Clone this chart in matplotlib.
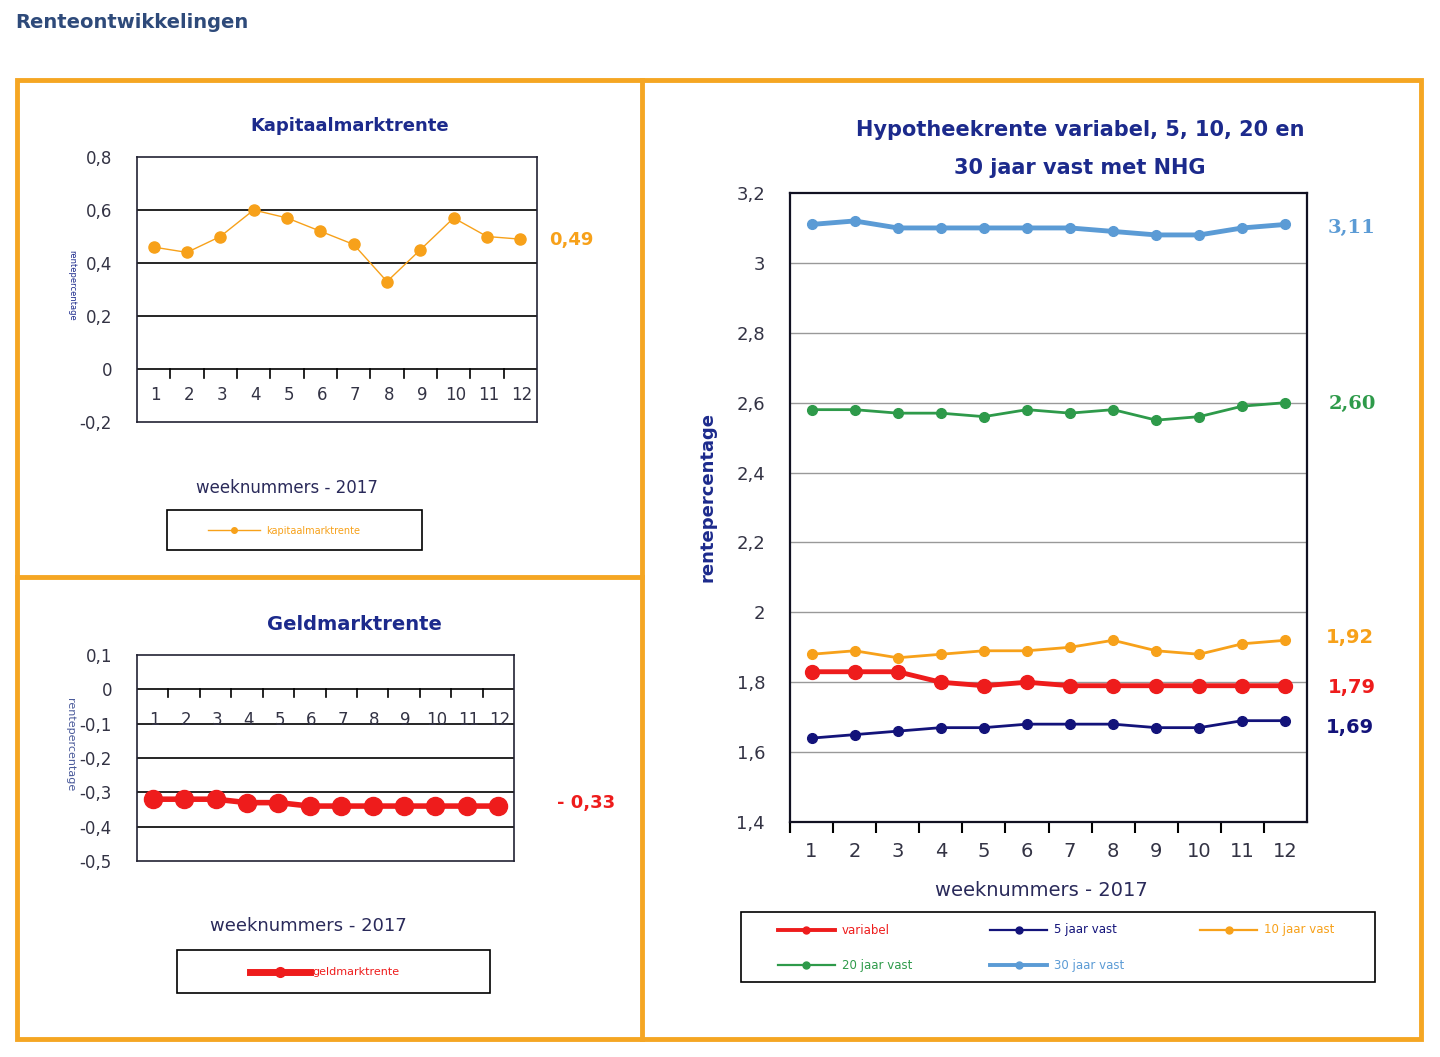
import matplotlib
matplotlib.use("Agg")
import matplotlib.pyplot as plt
from matplotlib.lines import Line2D
from matplotlib.patches import Rectangle

W, H = 1440, 1057

weeks = list(range(1, 13))
kapitaal = [0.46, 0.44, 0.50, 0.60, 0.57, 0.52, 0.47, 0.33, 0.45, 0.57, 0.50, 0.49]
geld = [-0.32, -0.32, -0.32, -0.33, -0.33, -0.34, -0.34, -0.34, -0.34, -0.34, -0.34, -0.34]
jaar30 = [3.11, 3.12, 3.10, 3.10, 3.10, 3.10, 3.10, 3.09, 3.08, 3.08, 3.10, 3.11]
jaar20 = [2.58, 2.58, 2.57, 2.57, 2.56, 2.58, 2.57, 2.58, 2.55, 2.56, 2.59, 2.60]
jaar10 = [1.88, 1.89, 1.87, 1.88, 1.89, 1.89, 1.90, 1.92, 1.89, 1.88, 1.91, 1.92]
variabel = [1.83, 1.83, 1.83, 1.80, 1.79, 1.80, 1.79, 1.79, 1.79, 1.79, 1.79, 1.79]
jaar5 = [1.64, 1.65, 1.66, 1.67, 1.67, 1.68, 1.68, 1.68, 1.67, 1.67, 1.69, 1.69]

ORANGE = "#f7a11a"
FRAME = "#f5a623"
NAVY = "#1c2a8c"
TXT = "#2a2a5a"
RED = "#ee1c1c"
LBLUE = "#5b9bd5"
GREEN = "#2e9a4a"
DNAVY = "#13137a"

fig = plt.figure(figsize=(W / 100, H / 100), dpi=100)
fig.patch.set_facecolor("white")


def fx(x):
    return x / W


def fy(y):
    return 1 - y / H


def add_ax(x0, y0, x1, y1):
    return fig.add_axes([fx(x0), fy(y1), (x1 - x0) / W, (y1 - y0) / H])


def ftext(x, y, s, **kw):
    fig.text(fx(x), fy(y), s, ha=kw.pop("ha", "center"), va=kw.pop("va", "center"), **kw)


def fline(x0, x1, y, color, lw, ms):
    fig.add_artist(Line2D([fx(x0), fx(x1)], [fy(y), fy(y)], color=color, lw=lw))
    fig.add_artist(Line2D([fx((x0 + x1) / 2)], [fy(y)], marker="o", color=color, ms=ms))


def small_chart(ax, vals, ylim, yticks, color, lw, ms, label_y):
    ax.set_xlim(0.5, 12.5)
    ax.set_ylim(*ylim)
    for y in yticks:
        if y not in ylim and y != 0:
            ax.axhline(y, color="black", lw=1.2)
    ax.axhline(0, color="black", lw=1.2)
    span = ylim[1] - ylim[0]
    for b in [i + 0.5 for i in range(1, 12)]:
        ax.plot([b, b], [0, -span * 0.035], color="black", lw=1.2)
    for w in weeks:
        ax.text(w + 0.05, label_y, str(w), ha="center", va="center", fontsize=12, color="#333344")
    ax.plot(weeks, vals, color=color, lw=lw, marker="o", ms=ms)
    ax.set_yticks(yticks)
    ax.set_yticklabels([f"{t:g}".replace(".", ",") for t in yticks], fontsize=12, color="#333344")
    ax.set_xticks([])
    ax.tick_params(axis="y", length=0, pad=18)
    for s in ax.spines.values():
        s.set_color("#222233")
        s.set_linewidth(1.2)


# page title
ftext(15, 22, "Renteontwikkelingen", ha="left", fontsize=14, fontweight="bold", color="#2e4a7a")

# orange frames
fig.add_artist(Rectangle((fx(17), fy(1039)), (1421 - 17) / W, (1039 - 80) / H,
                         transform=fig.transFigure, fill=False, ec=FRAME, lw=3.5))
fig.add_artist(Line2D([fx(642), fx(642)], [fy(80), fy(1039)], color=FRAME, lw=3.5))
fig.add_artist(Line2D([fx(17), fx(642)], [fy(577), fy(577)], color=FRAME, lw=3.5))

# Kapitaalmarktrente
ax1 = add_ax(137, 157, 537, 422)
small_chart(ax1, kapitaal, (-0.2, 0.8), [-0.2, 0, 0.2, 0.4, 0.6, 0.8], ORANGE, 1.0, 8, -0.1)
ftext(350, 126, "Kapitaalmarktrente", fontsize=13, fontweight="bold", color=NAVY)
ftext(72, 285, "rentepercentage", rotation=270, fontsize=6, color=NAVY)
ftext(571, 240, "0,49", fontsize=13, fontweight="bold", color=ORANGE)
ftext(287, 488, "weeknummers - 2017", fontsize=12, color=TXT)
fig.add_artist(Rectangle((fx(167), fy(550)), 255 / W, 40 / H, transform=fig.transFigure,
                         fill=False, ec="black", lw=1.2))
fline(208, 260, 530, ORANGE, 1.0, 4)
ftext(266, 531, "kapitaalmarktrente", ha="left", fontsize=7, color=ORANGE)

# Geldmarktrente
ax2 = add_ax(137, 655, 514, 861)
small_chart(ax2, geld, (-0.5, 0.1), [-0.5, -0.4, -0.3, -0.2, -0.1, 0, 0.1], RED, 4, 13, -0.09)
ftext(354, 625, "Geldmarktrente", fontsize=14, fontweight="bold", color=NAVY)
ftext(70, 745, "rentepercentage", rotation=270, fontsize=8, color="#4a5a9a")
ftext(557, 803, "- 0,33", ha="left", fontsize=13, fontweight="bold", color=RED)
ftext(308, 926, "weeknummers - 2017", fontsize=13, color=TXT)
fig.add_artist(Rectangle((fx(177), fy(993)), 313 / W, 43 / H, transform=fig.transFigure,
                         fill=False, ec="black", lw=1.2))
fline(250, 310, 972, RED, 5, 7)
ftext(312, 972, "geldmarktrente", ha="left", fontsize=8, color=RED)

# Hypotheekrente
ax3 = add_ax(790, 193, 1307, 822)
ax3.set_xlim(0.5, 12.5)
ax3.set_ylim(1.4, 3.2)
yt = [1.4, 1.6, 1.8, 2.0, 2.2, 2.4, 2.6, 2.8, 3.0, 3.2]
for y in yt[1:-1]:
    ax3.axhline(y, color="#999999", lw=1.0)
ax3.set_yticks(yt)
ax3.set_yticklabels([f"{t:g}".replace(".", ",") for t in yt], fontsize=13, color="#333344")
ax3.set_xticks([i + 0.5 for i in range(0, 12)] + [0.5])
ax3.set_xticklabels([""] * 13)
ax3.tick_params(axis="x", length=8, direction="out", color="black", width=1.5)
ax3.tick_params(axis="y", length=0, pad=18)
for w in weeks:
    ax3.text(w, 1.315, str(w), ha="center", va="center", fontsize=14, color="#333344")
for s in ax3.spines.values():
    s.set_color("#111122")
    s.set_linewidth(1.6)

series = [
    (variabel, RED, 3.5, 10, "variabel"),
    (jaar5, DNAVY, 2.0, 7, "5 jaar vast"),
    (jaar10, ORANGE, 2.0, 7, "10 jaar vast"),
    (jaar20, GREEN, 2.0, 7, "20 jaar vast"),
    (jaar30, LBLUE, 3.5, 7, "30 jaar vast"),
]
for vals, c, lw, ms, lab in series:
    ax3.plot(weeks, vals, color=c, lw=lw, marker="o", ms=ms)

ftext(1080, 130, "Hypotheekrente variabel, 5, 10, 20 en", fontsize=15, fontweight="bold", color=NAVY)
ftext(1080, 168, "30 jaar vast met NHG", fontsize=15, fontweight="bold", color=NAVY)
ftext(707, 497, "rentepercentage", rotation=90, fontsize=13, fontweight="bold", color=NAVY)
ftext(1041, 890, "weeknummers - 2017", fontsize=14, color=TXT)
ftext(1352, 228, "3,11", fontsize=14, fontweight="bold", color=LBLUE, family="DejaVu Serif")
ftext(1352, 404, "2,60", fontsize=14, fontweight="bold", color=GREEN, family="DejaVu Serif")
ftext(1350, 637, "1,92", fontsize=14, fontweight="bold", color=ORANGE)
ftext(1352, 687, "1,79", fontsize=14, fontweight="bold", color=RED)
ftext(1350, 727, "1,69", fontsize=14, fontweight="bold", color=DNAVY)

fig.add_artist(Rectangle((fx(741), fy(982)), 634 / W, 70 / H, transform=fig.transFigure,
                         fill=False, ec="black", lw=1.2))
leg_pos = [(778, 930), (990, 930), (1200, 930), (778, 965), (990, 965)]
for (vals, c, lw, ms, lab), (lx, ly) in zip(series, leg_pos):
    fline(lx, lx + 57, ly, c, lw * 0.8, 5)
    ftext(lx + 64, ly, lab, ha="left", fontsize=8.5, color=c)

fig.savefig("out.png", dpi=100)
